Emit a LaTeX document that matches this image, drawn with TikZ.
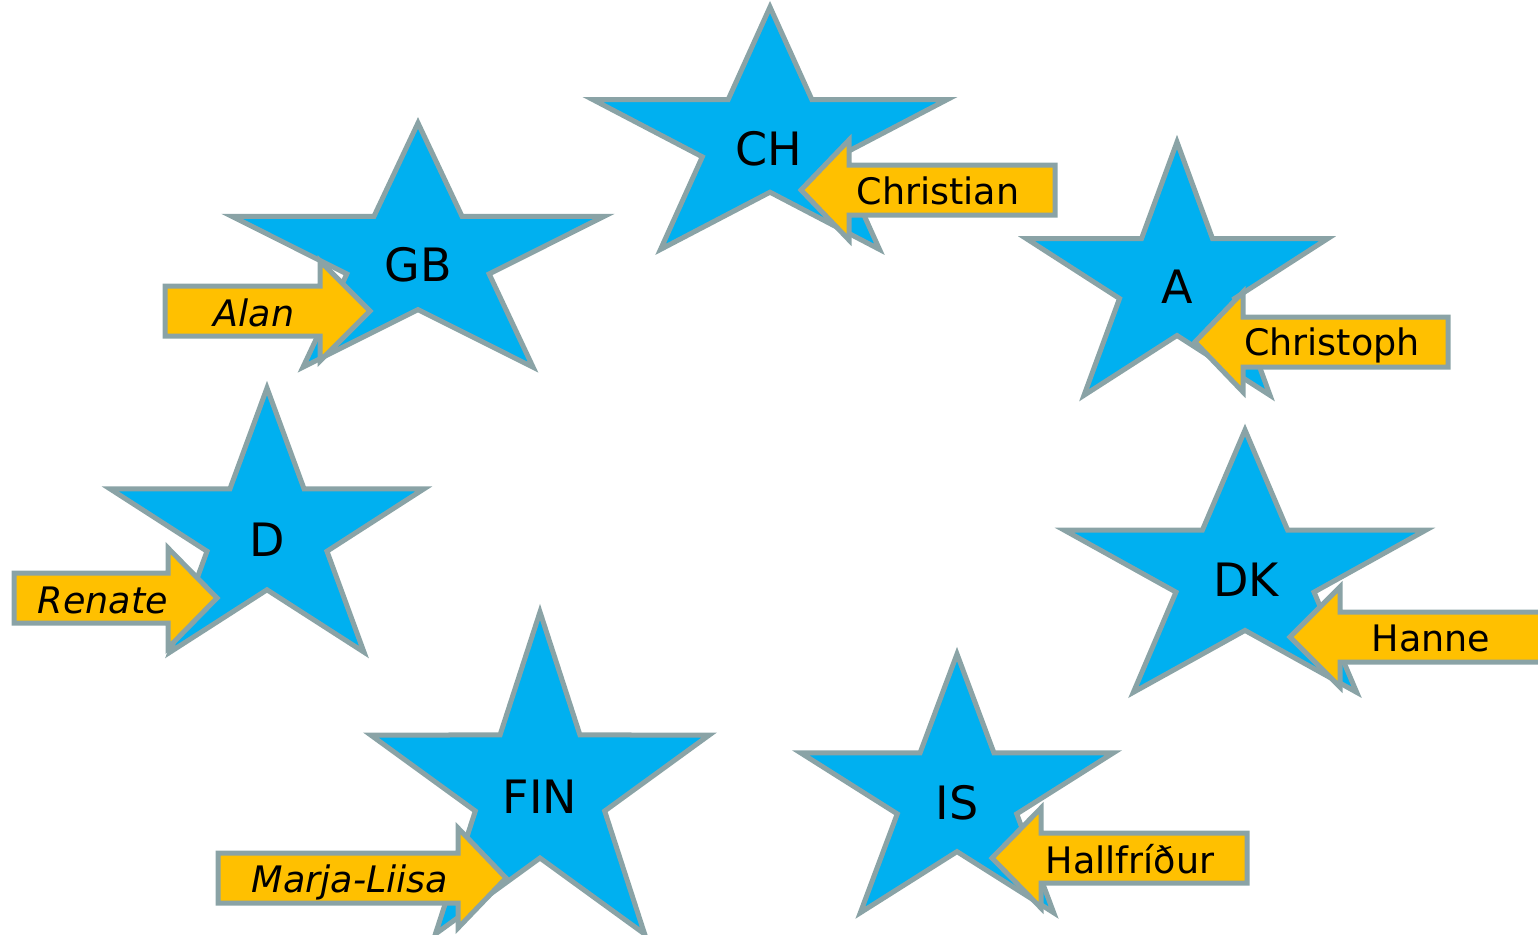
\documentclass[tikz,border=0pt]{standalone}
\usepackage{fontspec}
\setmainfont{DejaVu Sans}
\definecolor{starblue}{HTML}{00B0F0}
\definecolor{rimgray}{HTML}{8AA3A6}
\definecolor{tagyellow}{HTML}{FFC000}

\begin{document}
\begin{tikzpicture}[x=1pt, y=-1pt,
    flagstar/.style={fill=starblue, draw=rimgray, line width=5pt},
    nametag/.style={fill=tagyellow, draw=rimgray, line width=5pt},
    country/.style={font=\fontsize{46}{50}\selectfont, inner sep=0pt},
    person/.style={font=\fontsize{36.5}{40}\selectfont, anchor=base, inner sep=0pt}]
    \useasboundingbox (0,0) rectangle (1538,934);
    % stars
    \draw[flagstar, shift={(770,141)}, xscale=1.39] (-90:134) -- (-54:51.2) -- (-18:134) -- (18:51.2) -- (54:134) -- (90:51.2) -- (126:134) -- (162:51.2) -- (198:134) -- (234:51.2) -- cycle;
    \draw[flagstar, shift={(418,258)}, xscale=1.45] (-90:135) -- (-54:51.6) -- (-18:135) -- (18:51.6) -- (54:135) -- (90:51.6) -- (126:135) -- (162:51.6) -- (198:135) -- (234:51.6) -- cycle;
    \draw[flagstar, shift={(1177,282)}, xscale=1.13] (-90:140) -- (-54:53.5) -- (-18:140) -- (18:53.5) -- (54:140) -- (90:53.5) -- (126:140) -- (162:53.5) -- (198:140) -- (234:53.5) -- cycle;
    \draw[flagstar, shift={(267,534)}, xscale=1.13] (-90:146) -- (-54:55.8) -- (-18:146) -- (18:55.8) -- (54:146) -- (90:55.8) -- (126:146) -- (162:55.8) -- (198:146) -- (234:55.8) -- cycle;
    \draw[flagstar, shift={(1245,575)}, xscale=1.31] (-90:145) -- (-54:55.4) -- (-18:145) -- (18:55.4) -- (54:145) -- (90:55.4) -- (126:145) -- (162:55.4) -- (198:145) -- (234:55.4) -- cycle;
    \draw[flagstar, shift={(540,790)}, xscale=1.00] (-90:178) -- (-54:68) -- (-18:178) -- (18:68) -- (54:178) -- (90:68) -- (126:178) -- (162:68) -- (198:178) -- (234:68) -- cycle;
    \draw[flagstar, shift={(957,797)}, xscale=1.15] (-90:143) -- (-54:54.6) -- (-18:143) -- (18:54.6) -- (54:143) -- (90:54.6) -- (126:143) -- (162:54.6) -- (198:143) -- (234:54.6) -- cycle;
    \node[country] (ch) at (769,149) {CH};
    \node[country] (gb) at (418,265) {GB};
    \node[country] (a) at (1177,287) {A};
    \node[country] (d) at (267,540) {D};
    \node[country] (dk) at (1246,580) {DK};
    \node[country] (fin) at (540,797) {FIN};
    \node[country] (is) at (957,803) {IS};
    % name tags
    \draw[nametag] (801,190) -- ++(48,-50) -- ++(0,25) -- ++(206,0) -- ++(0,50) -- ++(-206,0) -- ++(0,25) -- cycle;
    \draw[nametag] (370,311) -- ++(-50,-50) -- ++(0,25) -- ++(-155,0) -- ++(0,50) -- ++(155,0) -- ++(0,25) -- cycle;
    \draw[nametag] (1195,342) -- ++(48,-50) -- ++(0,25) -- ++(205,0) -- ++(0,50) -- ++(-205,0) -- ++(0,25) -- cycle;
    \draw[nametag] (217,598) -- ++(-49,-50) -- ++(0,25) -- ++(-154,0) -- ++(0,50) -- ++(154,0) -- ++(0,25) -- cycle;
    \draw[nametag] (506,878) -- ++(-48,-50) -- ++(0,25) -- ++(-240,0) -- ++(0,50) -- ++(240,0) -- ++(0,25) -- cycle;
    \draw[nametag] (992,858) -- ++(49,-50) -- ++(0,25) -- ++(206,0) -- ++(0,50) -- ++(-206,0) -- ++(0,25) -- cycle;
    \draw[nametag] (1290,637) -- ++(50,-50) -- ++(0,25) -- ++(230,0) -- ++(0,50) -- ++(-230,0) -- ++(0,25) -- cycle;
    \node[person] (christian) at (938,204) {Christian};
    \node[person] (alan) at (254,326) {\itshape Alan};
    \node[person] (christoph) at (1332,355) {Christoph};
    \node[person] (renate) at (103,613) {\itshape Renate};
    \node[person] (marja) at (350,892) {\itshape Marja-Liisa};
    \node[person] (hallfridur) at (1130,873) {Hallfríður};
    \node[person] (hanne) at (1431,651) {Hanne};
\end{tikzpicture}
\end{document}
